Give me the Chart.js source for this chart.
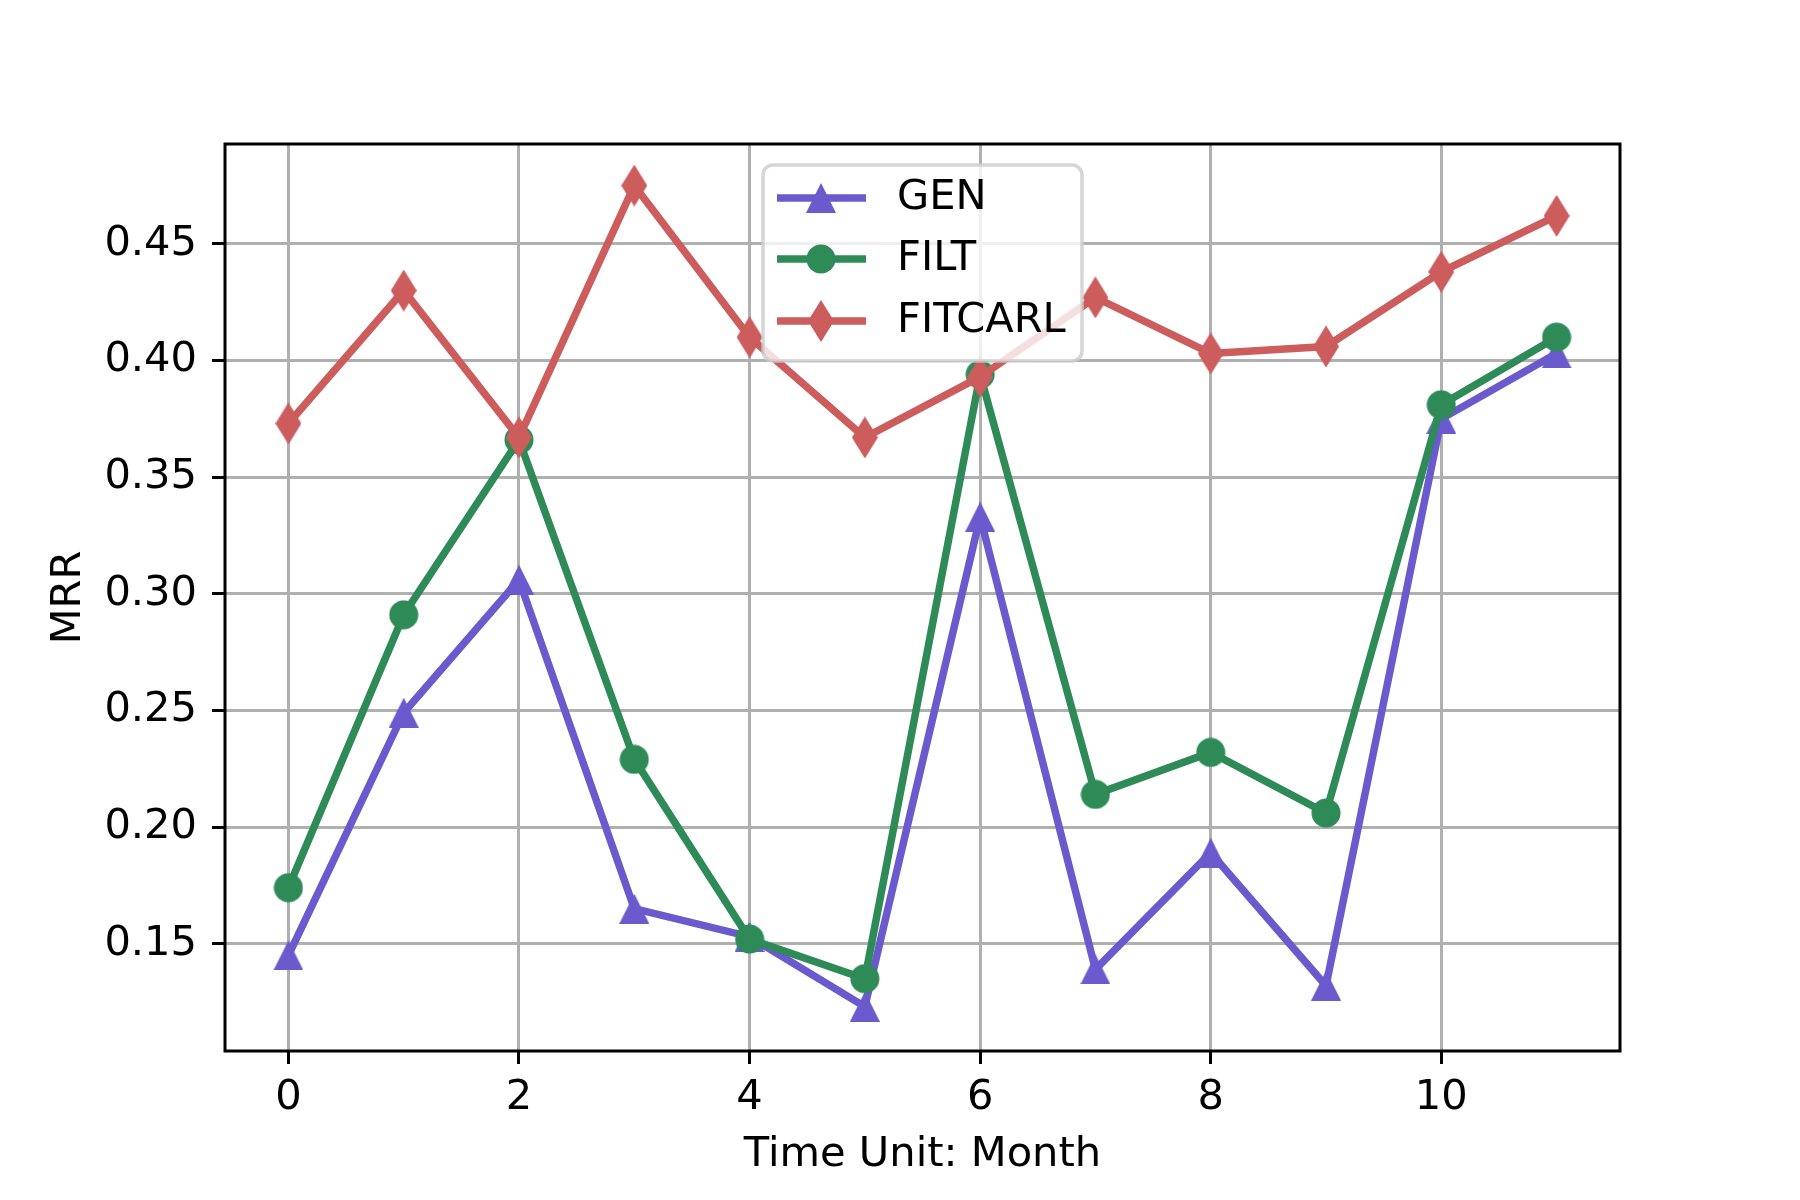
<!DOCTYPE html>
<html>
<head>
<meta charset="utf-8">
<title>MRR by month</title>
<script src="https://cdn.jsdelivr.net/npm/chart.js@4.4.1/dist/chart.umd.min.js"></script>
<style>
  html, body { margin: 0; padding: 0; background: #fff; }
  #wrap { width: 1800px; height: 1200px; }
</style>
</head>
<body>
<div id="wrap"><canvas id="mrr-chart" width="1800" height="1200"></canvas></div>
<script>
'use strict';

// #pragma Data

let months = [0, 1, 2, 3, 4, 5, 6, 7, 8, 9, 10, 11];
let genValues = [0.145, 0.249, 0.306, 0.165, 0.153, 0.123, 0.333, 0.139, 0.189, 0.132, 0.375, 0.403];
let filtValues = [0.174, 0.291, 0.366, 0.229, 0.152, 0.135, 0.394, 0.214, 0.232, 0.206, 0.381, 0.410];
let fitcarlValues = [0.373, 0.430, 0.367, 0.475, 0.410, 0.367, 0.393, 0.427, 0.403, 0.406, 0.438, 0.462];

let xTicks = [0, 2, 4, 6, 8, 10];
let yTicks = [0.15, 0.20, 0.25, 0.30, 0.35, 0.40, 0.45];

// #pragma Style

const FONT = 'DejaVu Sans';
const FONT_SIZE = 41.6;
Chart.defaults.font.family = FONT;
Chart.defaults.font.size = FONT_SIZE;
Chart.defaults.color = '#000';

const GEN_COLOR = '#6a5acd';
const FILT_COLOR = '#2e8b57';
const FITCARL_COLOR = '#cd5c5c';

// #pragma Helper/Utility Functions

// marker glyphs as small canvases, like matplotlib's ^, o and d
function makeMarker(shape, color) {
  let c = document.createElement('canvas');
  let ctx = c.getContext('2d');
  if (shape === 'triangle') {
    c.width = 30; c.height = 30;
    ctx.beginPath();
    ctx.moveTo(15, 0);
    ctx.lineTo(30, 30);
    ctx.lineTo(0, 30);
    ctx.closePath();
  } else if (shape === 'circle') {
    c.width = 30; c.height = 30;
    ctx.beginPath();
    ctx.arc(15, 15, 14.5, 0, Math.PI * 2);
  } else {
    c.width = 26; c.height = 42;
    ctx.beginPath();
    ctx.moveTo(13, 0);
    ctx.lineTo(26, 21);
    ctx.lineTo(13, 42);
    ctx.lineTo(0, 21);
    ctx.closePath();
  }
  ctx.fillStyle = color;
  ctx.fill();
  return c;
}

function toPoints(values) {
  return months.map((m, i) => ({ x: m, y: values[i] }));
}

let genMarker = makeMarker('triangle', GEN_COLOR);
let filtMarker = makeMarker('circle', FILT_COLOR);
let fitcarlMarker = makeMarker('diamond', FITCARL_COLOR);

// #pragma Plugins

// matplotlib style legend box inside the axes
const boxLegend = {
  id: 'boxLegend',
  afterDatasetsDraw(chart) {
    const ctx = chart.ctx;
    const box = { left: 763, top: 165, width: 319, height: 196, r: 10 };
    const rowY = [198, 259, 321];
    ctx.save();
    ctx.beginPath();
    ctx.roundRect(box.left, box.top, box.width, box.height, box.r);
    ctx.fillStyle = 'rgba(255,255,255,0.8)';
    ctx.fill();
    ctx.strokeStyle = 'rgba(204,204,204,0.8)';
    ctx.lineWidth = 3.5;
    ctx.stroke();

    chart.data.datasets.forEach((ds, i) => {
      let y = rowY[i];
      ctx.beginPath();
      ctx.moveTo(777, y);
      ctx.lineTo(866, y);
      ctx.strokeStyle = ds.borderColor;
      ctx.lineWidth = ds.borderWidth;
      ctx.stroke();
      let m = ds.pointStyle;
      ctx.drawImage(m, 821 - m.width / 2, y - m.height / 2);
      ctx.fillStyle = '#000';
      ctx.font = FONT_SIZE + 'px "' + FONT + '"';
      ctx.textBaseline = 'middle';
      ctx.textAlign = 'left';
      ctx.fillText(ds.label, 897, y);
    });
    ctx.restore();
  },
  afterDraw(chart) {
    // all four spines
    const a = chart.chartArea;
    const ctx = chart.ctx;
    ctx.save();
    ctx.strokeStyle = '#000';
    ctx.lineWidth = 3;
    ctx.strokeRect(a.left, a.top, a.right - a.left, a.bottom - a.top);
    ctx.restore();
  }
};

// #pragma Chart

let chartContext = document.getElementById('mrr-chart').getContext('2d');

let gridOpts = {
  color: '#b0b0b0',
  lineWidth: 3,
  drawTicks: true,
  tickLength: 13,
  tickColor: '#000',
  tickWidth: 3,
};

let chartConfig = {
  type: 'line',
  data: {
    datasets: [{
      label: 'GEN',
      data: toPoints(genValues),
      borderColor: GEN_COLOR,
      backgroundColor: GEN_COLOR,
      borderWidth: 7.5,
      pointStyle: genMarker,
      pointRadius: 15,
      order: 2,
    }, {
      label: 'FILT',
      data: toPoints(filtValues),
      borderColor: FILT_COLOR,
      backgroundColor: FILT_COLOR,
      borderWidth: 7.5,
      pointStyle: filtMarker,
      pointRadius: 15,
      order: 1,
    }, {
      label: 'FITCARL',
      data: toPoints(fitcarlValues),
      borderColor: FITCARL_COLOR,
      backgroundColor: FITCARL_COLOR,
      borderWidth: 7.5,
      pointStyle: fitcarlMarker,
      pointRadius: 15,
      order: 0,
    }],
  },
  options: {
    responsive: false,
    animation: false,
    devicePixelRatio: 1,
    layout: { padding: { left: 0, top: 144, right: 180, bottom: 0 } },
    plugins: {
      legend: { display: false },
      tooltip: { enabled: false },
    },
    elements: { line: { tension: 0, fill: false } },
    scales: {
      x: {
        type: 'linear',
        min: -0.55,
        max: 11.55,
        grid: gridOpts,
        border: { display: false },
        ticks: {
          color: '#000',
          padding: 9,
          maxRotation: 0,
          autoSkip: false,
          callback: (v) => String(v),
        },
        afterBuildTicks: (scale) => { scale.ticks = xTicks.map(v => ({ value: v })); },
        afterFit: (scale) => { scale.height = 149; },
        title: {
          display: true,
          text: 'Time Unit: Month',
          color: '#000',
          padding: { top: 0, bottom: 20 },
        },
      },
      y: {
        type: 'linear',
        min: 0.104,
        max: 0.4928,
        grid: gridOpts,
        border: { display: false },
        ticks: {
          color: '#000',
          padding: 15,
          autoSkip: false,
          callback: (v) => v.toFixed(2),
        },
        afterBuildTicks: (scale) => { scale.ticks = yTicks.map(v => ({ value: v })); },
        afterFit: (scale) => { scale.width = 225; },
        title: {
          display: true,
          text: 'MRR',
          color: '#000',
          padding: { top: 44, bottom: 0 },
        },
      },
    },
  },
  plugins: [boxLegend],
};

let myChart = new Chart(chartContext, chartConfig);
</script>
</body>
</html>
